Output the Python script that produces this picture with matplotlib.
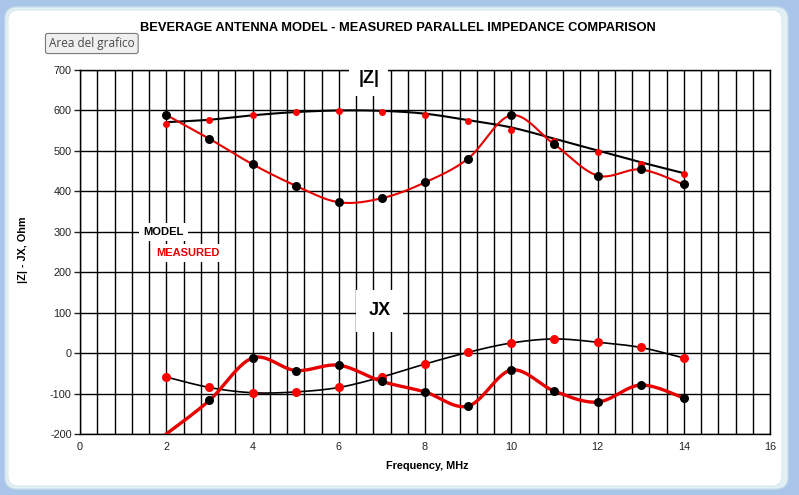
import numpy as np
import matplotlib.pyplot as plt
from matplotlib.patches import FancyBboxPatch
from matplotlib.ticker import MultipleLocator

plt.rcParams['font.family'] = ['Liberation Sans', 'DejaVu Sans']
plt.rcParams['axes.unicode_minus'] = False

## dati
freq = [2, 3, 4, 5, 6, 7, 8, 9, 10, 11, 12, 13, 14]
z_model_curve = [571, 577, 588, 596, 600, 599, 592, 576, 558, 530, 501, 472, 445]
z_model = [567, 577, 588, 597, 599, 597, 588, 573, 551, 524, 497, 468, 442]
z_meas = [589, 530, 467, 414, 373, 383, 422, 481, 588, 516, 439, 454, 417]
jx_model = [-59, -85, -98, -96, -85, -59, -27, 2, 25, 35, 27, 14, -12]
jx_meas = [-200, -117, -12, -43, -30, -70, -96, -131, -42, -94, -121, -79, -111]

W, H = 799, 495


def smooth(x, y, n=30):
    # linea "smussata" come Excel (bezier / catmull-rom)
    x = np.asarray(x, float)
    y = np.asarray(y, float)
    px = np.concatenate([[x[0]], x, [x[-1]]])
    py = np.concatenate([[y[0]], y, [y[-1]]])
    t = np.linspace(0, 1, n)
    xs, ys = [], []
    for i in range(1, len(px) - 2):
        b0x, b0y = px[i], py[i]
        b3x, b3y = px[i + 1], py[i + 1]
        b1x = b0x + (px[i + 1] - px[i - 1]) / 6
        b1y = b0y + (py[i + 1] - py[i - 1]) / 6
        b2x = b3x - (px[i + 2] - px[i]) / 6
        b2y = b3y - (py[i + 2] - py[i]) / 6
        xs.append((1-t)**3*b0x + 3*(1-t)**2*t*b1x + 3*(1-t)*t**2*b2x + t**3*b3x)
        ys.append((1-t)**3*b0y + 3*(1-t)**2*t*b1y + 3*(1-t)*t**2*b2y + t**3*b3y)
    return np.concatenate(xs), np.concatenate(ys)


fig = plt.figure(figsize=(W / 100, H / 100), dpi=100, facecolor='#aac5ea')

# cornice della finestra
fig.patches.append(FancyBboxPatch((5 / 100, 6 / 100), 783 / 100, 482 / 100,
                                  boxstyle='round,pad=0,rounding_size=0.12',
                                  transform=fig.dpi_scale_trans, facecolor='#e2f0f6',
                                  edgecolor='#c9dde8', lw=0.8, zorder=-2))
fig.patches.append(FancyBboxPatch((8 / 100, 9 / 100), 774 / 100, 476 / 100,
                                  boxstyle='round,pad=0,rounding_size=0.10',
                                  transform=fig.dpi_scale_trans, facecolor='white',
                                  edgecolor='#d8e8ef', lw=0.8, zorder=-1))

ax = fig.add_axes([80 / W, 1 - 434 / H, 690 / W, 364 / H])
ax.set_facecolor('white')
ax.set_xlim(0, 16)
ax.set_ylim(-200, 700)
ax.xaxis.set_major_locator(MultipleLocator(2))
ax.xaxis.set_minor_locator(MultipleLocator(0.4))
ax.yaxis.set_major_locator(MultipleLocator(100))
ax.set_axisbelow(True)
ax.grid(which='both', axis='x', color='black', lw=1.0)
ax.grid(which='major', axis='y', color='black', lw=1.0)
for s in ax.spines.values():
    s.set_color('black')
    s.set_linewidth(1.0)
ax.tick_params(axis='y', length=4, width=1, pad=2, labelsize=7.8, colors='#222222')
ax.tick_params(axis='x', which='both', length=0, pad=6, labelsize=7.8, colors='#222222')

# |Z|
xs, ys = smooth(freq, z_model_curve)
ax.plot(xs, ys, color='black', lw=1.5, zorder=3)
xs, ys = smooth(freq, z_meas)
ax.plot(xs, ys, color='#e60000', lw=1.5, zorder=3)
ax.plot(freq, z_model, 'o', color='#ff0000', ms=5.0, mec='none', zorder=4)
ax.plot(freq, z_meas, 'o', color='black', ms=6.5, mec='none', zorder=4)

# JX
xs, ys = smooth(freq, jx_model)
ax.plot(xs, ys, color='black', lw=1.2, zorder=3)
xs, ys = smooth(freq, jx_meas)
ax.plot(xs, ys, color='#e60000', lw=2.4, zorder=3)
ax.plot(freq, jx_model, 'o', color='#ff0000', ms=6.5, mec='none', zorder=4)
ax.plot(freq[1:], jx_meas[1:], 'o', color='black', ms=6.5, mec='none', zorder=4)

# etichette nel grafico
box = dict(facecolor='white', edgecolor='none', pad=3)
ax.text(6.7, 678, '|Z|', fontsize=13, fontweight='bold', ha='center', va='center',
        zorder=6, clip_on=False,
        bbox=dict(facecolor='white', edgecolor='none', boxstyle='square,pad=0.5'))
ax.text(6.95, 105, 'JX', fontsize=13, fontweight='bold', ha='center', va='center',
        zorder=6, bbox=dict(facecolor='white', edgecolor='none', boxstyle='square,pad=0.7'))
ax.text(1.94, 300, 'MODEL', fontsize=8, fontweight='bold', ha='center', va='center',
        zorder=6, bbox=box)
ax.text(2.5, 247, 'MEASURED', fontsize=8, fontweight='bold', color='#e60000',
        ha='center', va='center', zorder=6, bbox=box)

fig.text(397.7 / W, 1 - 27.7 / H,
         'BEVERAGE ANTENNA MODEL - MEASURED PARALLEL IMPEDANCE COMPARISON',
         ha='center', va='center', fontsize=9.3, fontweight='bold')
fig.text(427 / W, 1 - 466 / H, 'Frequency, MHz', ha='center', va='center',
         fontsize=7.8, fontweight='bold')
fig.text(23 / W, 1 - 250 / H, '|Z| - JX, Ohm', ha='center', va='center',
         rotation=90, fontsize=7.8, fontweight='bold')

# tooltip di Excel
fig.text(49 / W, 1 - 43.5 / H, 'Area del grafico', ha='left', va='center',
         fontsize=8.5, color='#4a4a4a', family=['Open Sans', 'DejaVu Sans'],
         bbox=dict(boxstyle='round,pad=0.3,rounding_size=0.2', facecolor='#efefef',
                   edgecolor='#7a7a7a', lw=0.8))

fig.savefig('out.png', dpi=100, facecolor=fig.get_facecolor())
